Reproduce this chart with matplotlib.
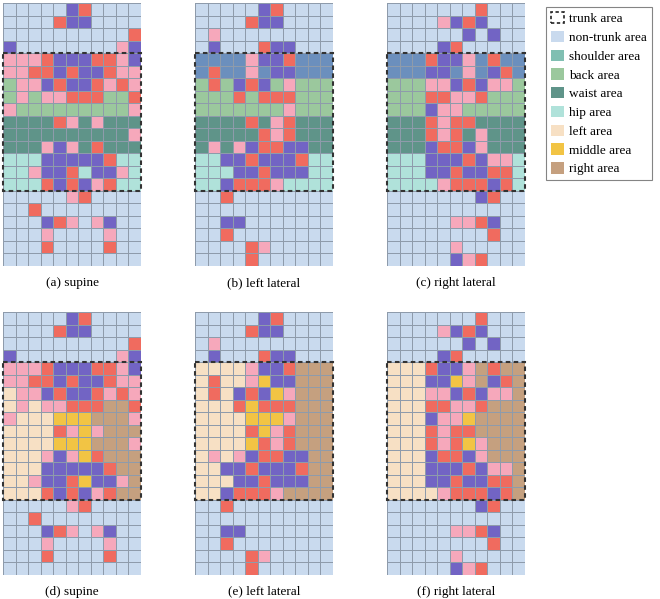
import matplotlib
matplotlib.use("Agg")
import matplotlib.pyplot as plt
import numpy as np
from matplotlib.colors import ListedColormap
from matplotlib.patches import Rectangle, Patch

plt.rcParams['font.family'] = ['Liberation Serif', 'DejaVu Serif']

# cell codes: . = empty (area colour), k = pink, r = red, p = purple
supine = [
    ".....pr....",
    "....rpp....",
    "..........r",
    "p........kp",
    "kkkrppprrkp",
    "kkrrprpprkk",
    ".kkprpprkrk",
    ".k.kkrrr..r",
    "k.........k",
    "....rk.k...",
    "..........k",
    "...kpk.r...",
    "...pppppr..",
    "..kppr.ppk.",
    "...rprpkr..",
    ".....kr....",
    "..r........",
    "...prk.kp..",
    "...k....k..",
    "...r....r..",
    "...........",
]
left_lateral = [
    ".....pr....",
    "....rpp....",
    ".k.........",
    ".p...rpp...",
    "....kppr...",
    ".r..k.pp...",
    ".r.prp.k...",
    "...r.rrr...",
    ".......k...",
    "....r.kr...",
    ".....rkr...",
    ".k.kprrpp..",
    "..pprpppr..",
    "...pprppp..",
    "..prrrk....",
    "..r........",
    "...........",
    "..pp.......",
    "..r........",
    "....rk.....",
    "....r......",
]
right_lateral = [
    ".......r...",
    "....kprp...",
    "......p.p..",
    "....pr.....",
    "...rppk.r..",
    "...pp.k.pr.",
    "...kkprpkk.",
    "...rrkkr...",
    "...pkk.....",
    "...rkrr....",
    "...rkr.k...",
    "...prrpk...",
    "...ppprpkk.",
    "...pprpprr.",
    "....krrrpr.",
    ".......pr..",
    "...........",
    ".....kkrp..",
    "........r..",
    ".....k.....",
    ".....pkr...",
]

postures = [supine, left_lateral, right_lateral]
top_titles = ["(a) supine", "(b) left lateral", "(c) right lateral"]
bottom_titles = ["(d) supine", "(e) left lateral", "(f) right lateral"]

# body-area partitions
trunk_rows = (4, 15)                      # rows 4..14
vertical_areas = [("shoulder", 4, 6), ("back", 6, 9), ("waist", 9, 12), ("hip", 12, 15)]
horizontal_areas = [("left", 0, 4), ("middle", 4, 7), ("right", 7, 11)]

legend_labels = ["trunk area", "non-trunk area", "shoulder area", "back area", "waist area",
                 "hip area", "left area", "middle area", "right area"]

colors = {
    "non": "#c9daee",
    "shoulder": "#6b8fbd",
    "back": "#9bc89d",
    "waist": "#5f9489",
    "hip": "#b0e2da",
    "left": "#f7e0c4",
    "middle": "#f2c444",
    "right": "#c5a07f",
    "k": "#f6a8bb",
    "r": "#f06b5f",
    "p": "#7264c4",
}
legend_shoulder = "#80bfb2"

keys = list(colors.keys())
cmap = ListedColormap([colors[k] for k in keys])

NR, NC = 21, 11


def build(grid, mode):
    m = np.full((NR, NC), keys.index("non"))
    if mode == "v":
        for name, r0, r1 in vertical_areas:
            m[r0:r1, :] = keys.index(name)
    else:
        for name, c0, c1 in horizontal_areas:
            m[trunk_rows[0]:trunk_rows[1], c0:c1] = keys.index(name)
    for i, row in enumerate(grid):
        for j, ch in enumerate(row):
            if ch in "krp":
                m[i, j] = keys.index(ch)
    return m


W, H = 660, 599
fig = plt.figure(figsize=(W / 100, H / 100), dpi=100)

cell = 12.5
xs = [3.3, 195.3, 387.3]
ys = [3.3, 312.0]


def draw(ax, m, title):
    ax.pcolormesh(np.arange(NC + 1), np.arange(NR + 1), m, cmap=cmap, vmin=-0.5,
                  vmax=len(keys) - 0.5, edgecolors="#8e9bab", linewidth=0.5)
    ax.set_xlim(0, NC)
    ax.set_ylim(NR, 0)
    ax.add_patch(Rectangle((0, trunk_rows[0]), NC, trunk_rows[1] - trunk_rows[0], fill=False,
                           edgecolor="#333333", linewidth=1.5, linestyle=(0, (2.2, 1.6)),
                           zorder=5, clip_on=False))
    ax.set_xticks([])
    ax.set_yticks([])
    for s in ax.spines.values():
        s.set_visible(False)
    ax.text(0.5, -11.0 / (NR * cell), title, transform=ax.transAxes, ha="center", va="top",
            fontsize=9.5)


for r, (mode, titles) in enumerate([("v", top_titles), ("h", bottom_titles)]):
    for c in range(3):
        x0 = xs[c]
        y0 = ys[r]
        ax = fig.add_axes([x0 / W, 1 - (y0 + NR * cell) / H, NC * cell / W, NR * cell / H])
        draw(ax, build(postures[c], mode), titles[c])

# legend
lax = fig.add_axes([0, 0, 1, 1])
lax.set_xlim(0, W)
lax.set_ylim(H, 0)
lax.axis("off")
handles = [Patch(facecolor="none", edgecolor="#222222", linestyle=(0, (2, 1.5)), linewidth=1.2)]
patch_cols = [colors["non"], legend_shoulder, colors["back"], colors["waist"], colors["hip"],
              colors["left"], colors["middle"], colors["right"]]
for pc in patch_cols:
    handles.append(Patch(facecolor=pc, edgecolor="none"))
leg = lax.legend(handles, legend_labels, loc="upper left", bbox_to_anchor=(546 / W, 1 - 7 / H),
                 bbox_transform=fig.transFigure, fontsize=9.5, frameon=True, fancybox=False,
                 edgecolor="#666666", handlelength=0.95, handleheight=0.95, handletextpad=0.4,
                 labelspacing=0.42, borderpad=0.38, borderaxespad=0)
leg.get_frame().set_linewidth(0.8)

fig.savefig("out.png", dpi=100)
